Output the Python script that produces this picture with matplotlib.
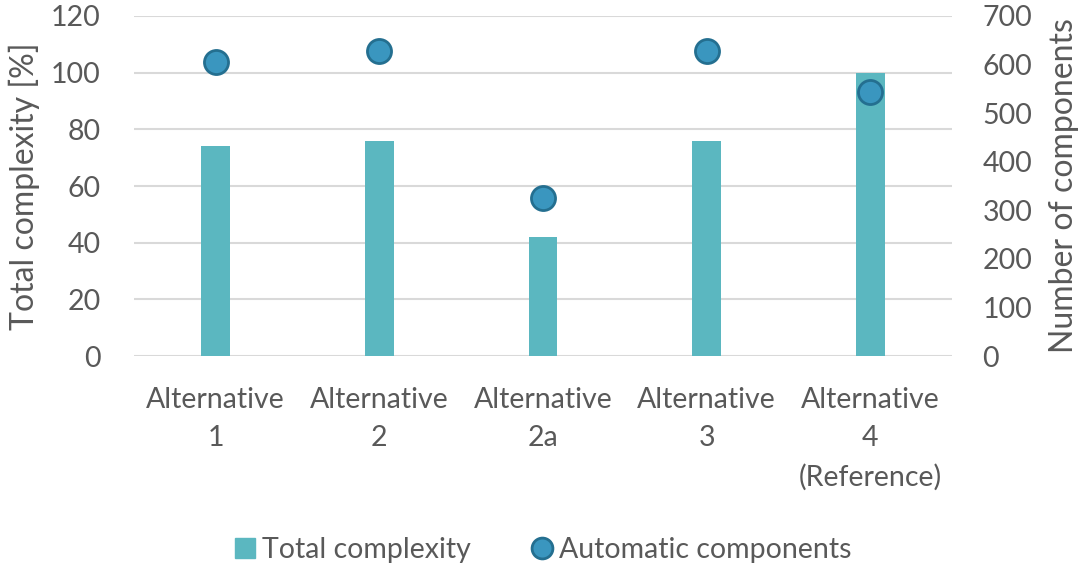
import matplotlib.pyplot as plt
import numpy as np
from matplotlib.lines import Line2D

plt.rcParams['font.family'] = ['Lato', 'DejaVu Sans']

# Data
categories = ["Alternative\n1", "Alternative\n2", "Alternative\n2a",
              "Alternative\n3", "Alternative\n4\n(Reference)"]
total_complexity = [74, 76, 42, 76, 100]          # left axis, %
automatic_components = [605, 628, 326, 628, 543]  # right axis, count

BAR_COLOR = "#5BB7C0"
DOT_FACE = "#3A96BF"
DOT_EDGE = "#246F90"
TEXT = "#595959"
GRID = "#D9D9D9"

fig = plt.figure(figsize=(10.82, 5.67), dpi=100)
ax = fig.add_axes([0.1238, 0.3721, 0.7561, 0.5997])
ax2 = ax.twinx()

x = np.arange(len(categories))
ax.bar(x, total_complexity, width=0.177, color=BAR_COLOR, zorder=2,
       label="Total complexity")
ax2.scatter(x, automatic_components, s=300, color=DOT_FACE, edgecolor=DOT_EDGE,
            linewidth=2, zorder=3, label="Automatic components")

ax.set_xlim(-0.5, len(categories) - 0.5)
ax.set_ylim(0, 120)
ax.set_yticks(np.arange(0, 121, 20))
ax2.set_ylim(0, 700)
ax2.set_yticks(np.arange(0, 701, 100))

ax.grid(axis="y", color=GRID, linewidth=1.5, zorder=0)
ax.set_axisbelow(True)
for a in (ax, ax2):
    for s in a.spines.values():
        s.set_visible(False)
    a.tick_params(length=0, labelsize=20.5, labelcolor=TEXT)

ax.set_xticks(x)
ax.set_xticklabels(categories, linespacing=1.6)
ax.tick_params(axis="x", pad=22)
ax.tick_params(axis="y", pad=24)
ax2.tick_params(axis="y", pad=22)

ax.set_ylabel("Total complexity [%]", fontsize=23, color=TEXT, labelpad=8)
ax2.set_ylabel("Number of components", fontsize=23, color=TEXT, labelpad=12)

l1 = ["Total complexity", "Automatic components"]
handles = [Line2D([], [], marker="s", linestyle="none", markersize=14,
                  color=BAR_COLOR),
           Line2D([], [], marker="o", linestyle="none", markersize=15,
                  markerfacecolor=DOT_FACE, markeredgecolor=DOT_EDGE,
                  markeredgewidth=2)]
fig.legend(handles, l1, loc="center", bbox_to_anchor=(0.5, 0.03),
           ncol=2, frameon=False, fontsize=20.5, labelcolor=TEXT,
           handletextpad=0.1, columnspacing=2.0, handlelength=1.0)

fig.savefig("out.png", dpi=100)
